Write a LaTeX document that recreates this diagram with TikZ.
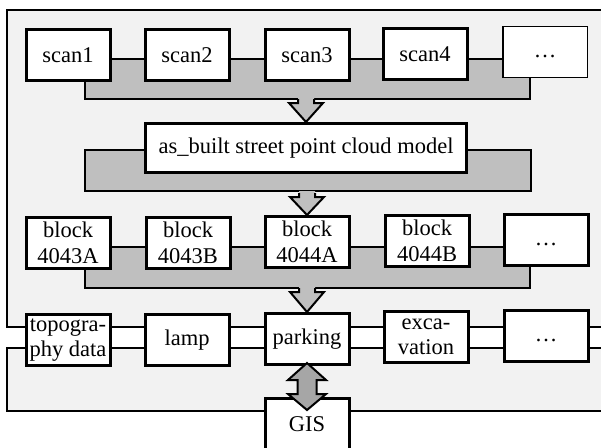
\documentclass[tikz,border=0pt]{standalone}
\usepackage{fontspec}
\setmainfont{Liberation Serif}
\usetikzlibrary{calc}
\definecolor{panelgray}{HTML}{F2F2F2}
\definecolor{bandgray}{HTML}{BFBFBF}
\definecolor{arrowgray}{HTML}{A6A6A6}
\newcommand\blockdown[2]{%
  \begin{scope}[shift={(#1)}]
    \fill[bandgray] (-8,{-#2-2}) -- (-8,{-#2+4}) -- (-17,{-#2+4}) -- (0,0) -- (17,{-#2+4}) -- (8,{-#2+4}) -- (8,{-#2-2}) -- cycle;
    \draw[barrow] (-8,-#2) -- (-8,{-#2+4}) -- (-17,{-#2+4}) -- (0,0) -- (17,{-#2+4}) -- (8,{-#2+4}) -- (8,-#2);
  \end{scope}}
\newcommand\dotsbox{\strut…}
\begin{document}
\begin{tikzpicture}[x=1pt,y=-1pt,
  box/.style={draw=black, line width=3pt, fill=white, minimum width=84pt, minimum height=51pt,
    inner sep=0pt, align=center, font=\fontsize{22.5}{25.5}\selectfont},
  thinbox/.style={box, line width=1.5pt, minimum width=84.5pt, minimum height=51pt},
  band/.style={fill=bandgray, draw=black, line width=1.3pt},
  edge/.style={draw=black, line width=1.3pt},
  barrow/.style={draw=black, line width=2pt, line join=miter},
]
\useasboundingbox (0,0) rectangle (601,447);
\clip (0,0) rectangle (601,447);
% panel
\fill[panelgray] (7,10) rectangle (601,411);
\fill[white] (7,327) rectangle (601,348);
\draw[edge] (601,10) -- (7,10) -- (7,327) -- (601,327);
\draw[edge] (601,348) -- (7,348) -- (7,411) -- (601,411);
% grey bands
\draw[band] (85,59) rectangle (530,99);
\draw[band] (85,150) rectangle (531,191);
\draw[band] (85,247) rectangle (530,288);
% row 1
\node[box] (scan1) at (68,55) {scan1};
\node[box] (scan2) at (187,55) {scan2};
\node[box] (scan3) at (307,55) {scan3};
\node[box] (scan4) at (425,54) {scan4};
\node[thinbox] (dots1) at (545,52) {\dotsbox};
% row 2
\node[box, minimum width=321pt, minimum height=49pt] (model) at (306,148) {as\_built street point cloud model};
% row 3
\node[box] (b43a) at (68,243) {block\\4043A};
\node[box] (b43b) at (188,243) {block\\4043B};
\node[box] (b44a) at (307,242) {block\\4044A};
\node[box] (b44b) at (427,241) {block\\4044B};
\node[box] (dots3) at (546,240) {\dotsbox};
% row 4
\node[box] (topo) at (68,340) {topogra-\\phy data};
\node[box] (lamp) at (187,340) {lamp};
\node[box] (park) at (307,339) {parking};
\node[box] (exca) at (426,337) {exca-\\vation};
\node[box] (dots4) at (546,336) {\dotsbox};
% GIS
\node[box] (gis) at (307,424) {GIS};
% block arrows
\blockdown{model.north}{23}
\blockdown{b44a.north}{22}
\blockdown{park.north}{24}
\begin{scope}[shift={(park.south)}]
  \filldraw[fill=arrowgray, barrow] (0,-3) -- (19,14) -- (9.5,14) -- (9.5,28) -- (19,28) -- (0,44)
    -- (-19,28) -- (-9.5,28) -- (-9.5,14) -- (-19,14) -- cycle;
\end{scope}
\end{tikzpicture}
\end{document}
